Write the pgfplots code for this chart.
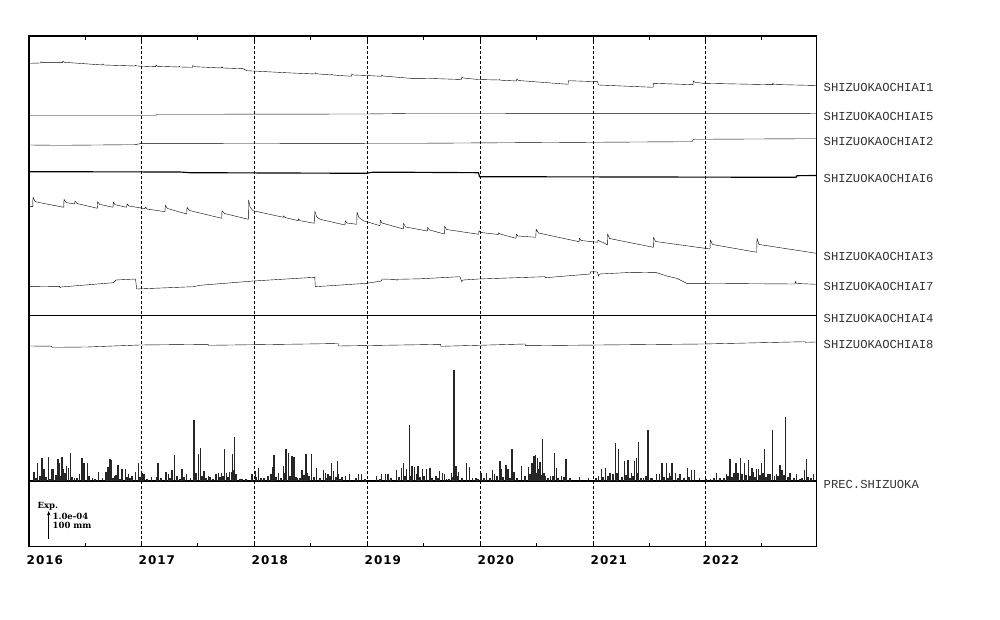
\documentclass[border=0pt]{standalone}
\usepackage{fontspec}
\usepackage{pgfplots}
\pgfplotsset{compat=1.18}
\usetikzlibrary{arrows.meta}
\newfontfamily\tickfont[LetterSpace=8]{DejaVu Sans}
\newfontfamily\labfont{Liberation Mono}
\newfontfamily\expfont{DejaVu Serif}
\begin{document}
\begin{tikzpicture}
\path[use as bounding box] (0,0) rectangle (1000pt,620pt);
% ---------------- strain series (values = vertical position) -------------
\begin{axis}[
  at={(29pt,73.5pt)}, anchor=south west,
  width=787.5pt, height=510.5pt, scale only axis,
  xmin=29, xmax=816.5, ymin=36, ymax=546.5, y dir=reverse,
  clip=false,
  axis line style={line width=1.6pt},
  xtick={29,141,254,367,480,593,705},
  xticklabels={2016,2017,2018,2019,2020,2021,2022},
  minor xtick={85,197.5,310.5,423.5,536.5,649,761},
  ytick=\empty,
  tick align=inside, major tick length=5pt, minor tick length=4pt,
  tick style={black, line width=1pt},
  xmajorgrids=true,
  major grid style={black, line width=0.8pt, dash pattern=on 3pt off 2pt},
  xticklabel style={font=\tickfont\bfseries\fontsize{12}{12}\selectfont, anchor=north west, inner sep=0pt, xshift=-2.5pt, yshift=-9pt},
  cycle list={{black, solid, no markers, line width=1.15pt, line join=round}},
]
% SHIZUOKAOCHIAI1
\addplot coordinates {(29,63.3) (40.7,63) (41,61.7) (42.5,62.7) (62.5,62.7) (62.8,61.3) (64.5,62.3)
 (102.5,65) (102.8,64) (104,65) (135,66) (135.3,65.3) (137,66) (155.8,66.7) (156,65) (157.5,66.3)
 (178.8,67) (179,66.3) (180,67) (192.5,67.3) (192.8,65.7) (194.5,66.7) (221.5,68) (221.8,66.8) (223,68)
 (243,68.7) (247,70.7) (291.7,73) (315,74) (315.2,72.8) (316.5,73.8) (331.5,75) (331.8,74.3) (333,75)
 (351.5,76.3) (351.8,74) (353.5,75) (366.7,75.5) (381.5,76.3) (381.8,75) (383,76) (410,78.3)
 (430,78.5) (430.2,78) (431.5,78.5) (461.5,79.5) (461.8,77) (463.5,78) (478,79.5) (499,80) (499.2,79.5)
 (500.5,80.2) (516.5,81) (516.8,79) (518.5,80.5) (568,84.3) (568.5,80.7) (597.5,81.7) (598.5,85)
 (653,87.3) (653.5,83.3) (693,84.7) (693.3,81) (695,82.3) (703,83.3) (772.5,84.7) (772.8,83.3) (774,84.5)
 (816.5,85.5)};
% SHIZUOKAOCHIAI5
\addplot coordinates {(29,115.3) (156,115.3) (157,114.3) (366,114) (410,113.5) (816.5,113.3)};
% SHIZUOKAOCHIAI2
\addplot coordinates {(29,145) (60,145.3) (135,144.7) (140,143.7) (366,143.3) (410,143.3) (692,141.7) (693.5,139.3) (816.5,138.7)};
% SHIZUOKAOCHIAI6
\addplot coordinates {(29,171.7) (180,172) (190,172.7) (366,173.3) (372,172.3) (410,172.3) (478.5,172.7) (479.5,176.7) (796,177.3) (797,175.7) (816.5,175.5)};
% SHIZUOKAOCHIAI3
\addplot coordinates {(29,206.5) (32.8,206.7) (33,197.3) (35,201.5) (40,202.7) (63.8,207.3)
 (64,199.3) (66,202.5) (74.5,204) (75,201) (77,203.5) (97.3,208.3)
 (97.7,201.7) (99.5,204.3) (113,207.3) (113.3,202.3) (115,204.7) (126.7,207.3)
 (127,204) (129,206) (145,208.7) (145.5,207) (147,209) (165,211.7)
 (165.3,205.3) (167.5,208.5) (186.7,214) (187,207.3) (189.5,210.5) (221.7,218.3)
 (222,210.7) (224.5,213.5) (248.3,219.3) (248.6,200) (250,207) (253,210.7) (283.3,217.3)
 (283.6,215.7) (285,217.5) (298.3,220.7) (298.6,218.7) (300,220.7) (314.5,223.3)
 (314.8,211) (316.5,216.5) (320,219.3) (345,225) (345.3,220.7) (347,223) (356.7,224.3)
 (357,212) (359,217.5) (363.3,220.7) (380,225.7) (380.3,220) (382,223) (403.3,229)
 (403.6,223.3) (405.5,227) (427.3,231) (427.6,227.3) (429.5,230) (444.3,234)
 (444.6,226) (446.5,229.5) (478.7,234.3) (479,230.7) (481,232.5) (498.3,234.5)
 (498.6,232.7) (500,234) (516,238.3) (516.3,234.3) (518,236) (535.7,237.3)
 (536.2,229.3) (538.5,233) (579,241.7) (579.3,238.3) (581,240.5) (597.7,242.3)
 (598,240) (600,241.5) (603.3,242.5) (607.3,245) (607.6,234) (609.5,238.5) (653.3,247.3)
 (653.6,237.3) (655.5,241.5) (710,249) (710.3,240) (712.5,244.5) (756.7,252.3)
 (757,238.3) (759,244.5) (816.5,253.3)};
% SHIZUOKAOCHIAI7
\addplot coordinates {(29,286.7) (59.5,286.3) (60,287.7) (61,287) (113.3,282.7) (116,280) (135.5,279)
 (136.7,289) (193.3,286.7) (200,285.3) (253.3,281) (314.8,277.3) (315.3,286.7) (366.7,283.3)
 (381.5,281) (382,279) (396.5,279.5) (397,280.3) (398,279.3) (420,278.8) (460,276.7) (461.7,281.7)
 (463,280) (479,279) (545,276.7) (545.5,277.7) (590,274) (590.7,271.7) (597.5,272) (598.3,276)
 (599.5,274) (633.3,272.3) (656.7,272.7) (666.7,276) (676.7,278.3) (686.7,283.3) (795,284)
 (795.3,281.5) (796.5,283.5) (816.5,284.3)};
% SHIZUOKAOCHIAI4
\addplot coordinates {(29,315.3) (816.5,315.3)};
% SHIZUOKAOCHIAI8
\addplot coordinates {(29,346) (51.5,346.2) (52,347.3) (86.7,347) (140,345) (208,344.3) (208.7,345.3)
 (306.7,344) (338,343.5) (338.5,346) (420,344.7) (440.5,344.3) (441,346.3) (525,344) (525.5,345.7)
 (703,344) (805,341.7) (805.5,342.3) (816.5,342)};
% precipitation baseline
\addplot[black, line width=1.3pt] coordinates {(29,481) (816.5,481)};
% scale bar
\draw[-{Stealth[length=4.5pt,width=3.5pt]}, line width=1pt] (axis cs:48.7,539) -- (axis cs:48.7,511);
\tikzset{expl/.style={anchor=west, inner sep=0pt, font=\expfont\bfseries\fontsize{8.5}{8.5}\selectfont}}
\node[expl] at (axis cs:37.5,506) {Exp.};
\node[expl] at (axis cs:52.5,516.3) {1.0e-04};
\node[expl] at (axis cs:52.5,525.5) {100 mm};
% station labels
\tikzset{lab/.style={anchor=west, inner sep=0pt, text=black!80, font=\labfont\fontsize{12.2}{12.2}\selectfont}}
\node[lab] at (axis cs:823.5,87.8) {SHIZUOKAOCHIAI1};
\node[lab] at (axis cs:823.5,116.7) {SHIZUOKAOCHIAI5};
\node[lab] at (axis cs:823.5,141.2) {SHIZUOKAOCHIAI2};
\node[lab] at (axis cs:823.5,178.3) {SHIZUOKAOCHIAI6};
\node[lab] at (axis cs:823.5,256.7) {SHIZUOKAOCHIAI3};
\node[lab] at (axis cs:823.5,286.2) {SHIZUOKAOCHIAI7};
\node[lab] at (axis cs:823.5,318.3) {SHIZUOKAOCHIAI4};
\node[lab] at (axis cs:823.5,344.7) {SHIZUOKAOCHIAI8};
\node[lab] at (axis cs:823.5,484.7) {PREC.SHIZUOKA};
\end{axis}
% ---------------- precipitation (mm) -------------
\begin{axis}[
  at={(29pt,139pt)}, anchor=south west,
  width=787.5pt, height=445pt, scale only axis,
  xmin=29, xmax=816.5, ymin=0, ymax=1648, hide axis, clip=false,
]
\addplot[ycomb, black!85, line width=1.1pt, no markers] coordinates {
(34.0,34) (37.3,68) (42.0,86) (44.0,43) (48.7,90) (52.0,43) (53.3,46) (58.0,80) (59.3,65) (62.0,89)
(63.3,43) (66.7,56) (68.7,49) (70.7,102) (74.7,12) (79.3,25) (82.0,85) (84.0,65) (87.3,68) (92.7,12)
(98.7,33) (102.7,12) (106.0,33) (108.0,53) (110.0,80) (111.3,78) (114.7,19) (118.0,60) (122.0,43) (125.3,46)
(128.7,25) (132.0,19) (135.3,33) (138.7,68) (142.0,31) (144.0,25) (151.3,16) (156.7,15) (158.0,68) (166.0,33)
(168.7,25) (172.0,41) (174.7,95) (182.0,46) (186.7,25) (190.7,12) (194.0,225) (198.7,99) (200.7,123) (204.0,37)
(208.7,19) (210.0,16) (216.0,25) (218.7,28) (221.3,31) (224.7,117) (226.7,31) (229.3,33) (231.3,33) (232.7,99)
(234.7,163) (240.0,6) (242.0,6) (252.0,25) (255.3,37) (258.7,49) (264.0,12) (272.7,53) (274.0,95) (278.7,31)
(283.3,56) (286.0,120) (288.7,105) (292.0,93) (294.0,90) (297.3,12) (302.0,40) (306.0,99) (307.3,31) (311.3,101)
(316.7,49) (323.3,40) (325.3,31) (328.0,25) (331.3,65) (333.3,37) (337.3,74) (338.7,25) (342.0,16) (345.3,19)
(349.3,25) (358.3,25) (361.7,25) (376.7,19) (381.7,25) (385.3,25) (388.0,25) (396.7,40) (401.3,49) (403.3,68)
(406.7,43) (409.3,206) (412.0,56) (414.7,53) (418.0,56) (422.7,43) (426.7,43) (430.0,47) (436.0,19) (439.3,37)
(442.7,31) (444.7,25) (446.7,6) (451.3,31) (454.0,411) (456.0,56) (458.7,33) (466.7,68) (469.3,53) (472.7,12)
(476.0,12) (481.0,31) (486.7,31) (492.7,40) (494.7,25) (500.0,74) (501.3,43) (506.0,58) (508.0,43) (512.0,120)
(514.0,33) (521.3,56) (528.7,53) (532.0,65) (534.0,93) (535.3,95) (537.3,86) (540.0,70) (542.7,154) (545.3,19)
(550.7,19) (554.7,105) (556.7,49) (561.3,19) (566.0,83) (570.0,12) (579.3,16) (588.7,12) (598.7,19) (601.3,43)
(605.3,49) (610.0,31) (615.3,140) (618.7,120) (624.7,74) (628.0,78) (631.3,31) (634.7,74) (636.7,84) (638.7,146)
(643.3,12) (648.0,189) (650.7,12) (656.7,25) (659.3,25) (662.0,65) (666.7,65) (669.3,31) (672.0,65) (675.3,31)
(680.0,25) (687.3,49) (691.3,40) (694.7,40) (699.3,12) (706.0,6) (710.7,6) (716.7,28) (720.0,12) (726.7,25)
(730.0,80) (734.0,31) (736.0,65) (738.0,31) (740.7,86) (744.7,68) (748.7,78) (752.0,49) (753.3,33) (756.7,46)
(758.7,43) (761.3,68) (764.7,120) (768.0,25) (772.7,188) (774.7,19) (776.7,25) (780.0,58) (782.0,40) (785.3,238)
(790.0,31) (796.7,25) (802.0,11) (804.7,40) (806.7,80) (813.3,25)
(36,12) (40,20) (46,15) (50,9) (56,22) (61,18) (65,28) (72,15) (77,10) (89,20) (95,8) (113,12) (116,22) (120,9)
(127,14) (130,10) (140,14) (147,8) (161,10) (170,12) (177,18) (180,9) (184,14) (196,30) (202,20) (206,10) (213,8)
(220,14) (223,20) (228,15) (233,40) (236,25) (246,8) (256,14) (261,10) (268,18) (271,25) (276,14) (281,10) (285,30)
(290,20) (296,15) (300,10) (304,22) (309,18) (314,14) (320,10) (327,12) (330,18) (336,15) (340,8) (356,10) (365,8)
(380,9) (391,10) (399,14) (405,20) (410,18) (417,25) (420,14) (424,18) (432,12) (438,10) (449,9) (453,14) (457,20)
(462,10) (478,8) (484,10) (490,12) (497,18) (503,14) (510,10) (517,12) (525,18) (530,25) (533,40) (536,30) (538,45)
(541,22) (544,28) (548,10) (553,18) (558,12) (564,14) (596,10) (603,14) (608,18) (613,25) (617,30) (622,14) (626,22)
(630,12) (633,18) (637,30) (641,12) (646,20) (652,10) (664,14) (668,12) (671,18) (678,10) (684,12) (689,14) (714,10)
(724,12) (728,18) (732,14) (742,25) (746,22) (750,18) (755,14) (760,22) (763,30) (766,14) (770,25) (778,18) (784,22)
(788,14) (794,10) (800,8) (808,14) (811,10)
};
\end{axis}
\end{tikzpicture}
\end{document}
